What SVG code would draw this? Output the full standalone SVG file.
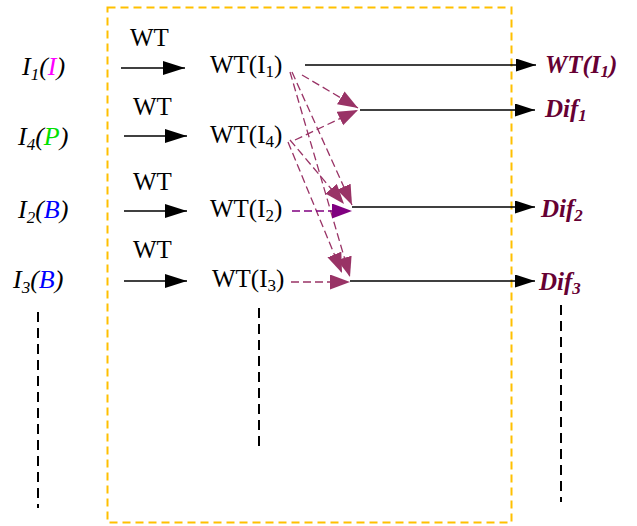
<svg xmlns="http://www.w3.org/2000/svg" width="637" height="526" viewBox="0 0 637 526">
<style>
.serif{font-family:"Liberation Serif","Times New Roman",serif;fill:#000}
.lbl{font-size:26px;font-style:italic}
.wt{font-size:25px}
.wti{font-size:25px}
.out{font-size:25px;font-style:italic;font-weight:bold;fill:#660033}
.blk{stroke:#000;stroke-width:1.5;fill:none}
.dash{stroke:#993366;stroke-width:1.3;stroke-dasharray:8,4;fill:none}
.vdash{stroke:#000;stroke-width:2;stroke-dasharray:10,6;fill:none}
</style>
<defs>
<marker id="ab" markerUnits="userSpaceOnUse" markerWidth="22" markerHeight="16" refX="22" refY="7" orient="auto"><path d="M0,0 L22,7 L0,14 z" fill="#000"/></marker>
<marker id="ao" markerUnits="userSpaceOnUse" markerWidth="20" markerHeight="14" refX="20" refY="6.5" orient="auto"><path d="M0,0 L20,6.5 L0,13 z" fill="#000"/></marker>
<marker id="am" markerUnits="userSpaceOnUse" markerWidth="20" markerHeight="16" refX="20" refY="7.5" orient="auto"><path d="M0,0 L20,7.5 L0,15 z" fill="#993366"/></marker>
<marker id="ap" markerUnits="userSpaceOnUse" markerWidth="20" markerHeight="16" refX="20" refY="7.5" orient="auto"><path d="M0,0 L20,7.5 L0,15 z" fill="#800080"/></marker>
</defs>
<rect width="637" height="526" fill="#fff"/>
<rect id="box" x="107.5" y="7.5" width="404" height="515" fill="none" stroke="#FFC000" stroke-width="2" stroke-dasharray="8,5"/>

<g id="in1"><text class="serif lbl" x="22" y="75">I<tspan font-size="17" dy="5">1</tspan><tspan dy="-5">(</tspan><tspan fill="#FF00FF">I</tspan>)</text></g>
<g id="in4"><text class="serif lbl" x="18" y="145">I<tspan font-size="17" dy="5">4</tspan><tspan dy="-5">(</tspan><tspan fill="#00E000">P</tspan>)</text></g>
<g id="in2"><text class="serif lbl" x="18" y="218">I<tspan font-size="17" dy="5">2</tspan><tspan dy="-5">(</tspan><tspan fill="#0000FF">B</tspan>)</text></g>
<g id="in3"><text class="serif lbl" x="13" y="288">I<tspan font-size="17" dy="5">3</tspan><tspan dy="-5">(</tspan><tspan fill="#0000FF">B</tspan>)</text></g>

<g id="wt1"><text class="serif wti" x="210" y="73">WT(I<tspan font-size="17" dy="4">1</tspan><tspan dy="-4">)</tspan></text></g>
<g id="wt4"><text class="serif wti" x="210" y="143">WT(I<tspan font-size="17" dy="4">4</tspan><tspan dy="-4">)</tspan></text></g>
<g id="wt2"><text class="serif wti" x="210" y="217">WT(I<tspan font-size="17" dy="4">2</tspan><tspan dy="-4">)</tspan></text></g>
<g id="wt3"><text class="serif wti" x="212" y="287">WT(I<tspan font-size="17" dy="4">3</tspan><tspan dy="-4">)</tspan></text></g>

<g id="out1"><text class="serif out" x="545" y="73">WT(I<tspan font-size="17" dy="4">1</tspan><tspan dy="-4">)</tspan></text></g>
<g id="dif1"><text class="serif out" x="545" y="117">Dif<tspan font-size="17" dy="4">1</tspan></text></g>
<g id="dif2"><text class="serif out" x="541" y="217">Dif<tspan font-size="17" dy="4">2</tspan></text></g>
<g id="dif3"><text class="serif out" x="539" y="290">Dif<tspan font-size="17" dy="4">3</tspan></text></g>

<g id="wtlabels">
<text class="serif wt" x="130" y="46">WT</text>
<text class="serif wt" x="133" y="115">WT</text>
<text class="serif wt" x="133" y="190">WT</text>
<text class="serif wt" x="133" y="258">WT</text>
</g>

<g id="connectors">
<line class="blk" x1="121" y1="68" x2="185" y2="68" marker-end="url(#ab)"/>
<line class="blk" x1="124" y1="136" x2="187" y2="136" marker-end="url(#ab)"/>
<line class="blk" x1="124" y1="211" x2="187" y2="211" marker-end="url(#ab)"/>
<line class="blk" x1="124" y1="281" x2="187" y2="281" marker-end="url(#ab)"/>

<line class="blk" x1="305" y1="65" x2="536" y2="65" marker-end="url(#ao)"/>
<line class="blk" x1="360" y1="110" x2="535" y2="110" marker-end="url(#ao)"/>
<line class="blk" x1="352" y1="207" x2="535" y2="207" marker-end="url(#ao)"/>
<line class="blk" x1="350" y1="281" x2="535" y2="281" marker-end="url(#ao)"/>

<line class="dash" x1="302" y1="75" x2="358" y2="108" marker-end="url(#am)"/>
<line class="dash" x1="295" y1="140" x2="358" y2="110" marker-end="url(#am)"/>
<line class="dash" x1="292" y1="72" x2="352" y2="205" marker-end="url(#am)"/>
<line class="dash" x1="290" y1="140" x2="344" y2="204" marker-end="url(#am)"/>
<line class="dash" x1="290" y1="72" x2="350" y2="277" marker-end="url(#am)"/>
<line class="dash" x1="288" y1="142" x2="342" y2="273" marker-end="url(#am)"/>
<line class="dash" x1="292" y1="211" x2="352" y2="211" style="stroke:#800080" marker-end="url(#ap)"/>
<line class="dash" x1="291" y1="282" x2="350" y2="282" marker-end="url(#am)"/>

<line class="vdash" x1="38" y1="312" x2="38" y2="508"/>
<line class="vdash" x1="259" y1="308" x2="259" y2="452"/>
<line class="vdash" x1="561" y1="305" x2="561" y2="502"/>
</g>
</svg>
